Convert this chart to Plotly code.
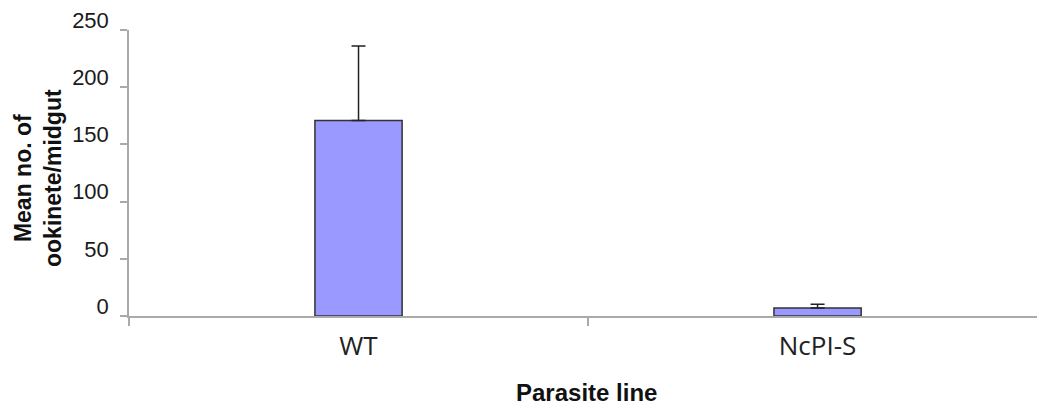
import plotly.graph_objects as go

categories = ["WT", "NcPI-S"]
means = [171, 7]
errors = [65, 3.2]
y_ticks = [0, 50, 100, 150, 200, 250]

fig = go.Figure()
fig.add_trace(go.Bar(
    x=categories, y=means, width=0.19,
    marker=dict(color="#9999ff", line=dict(color="#333333", width=1.5)),
    error_y=dict(type="data", array=errors, symmetric=False, arrayminus=[0, 0],
                 color="#222222", thickness=1.5, width=7),
))

fig.update_layout(
    width=1037, height=405,
    margin=dict(l=129, r=0, t=30, b=89),
    paper_bgcolor="white", plot_bgcolor="white",
    showlegend=False,
    xaxis=dict(
        type="category", range=[-0.5, 1.478],
        showline=True, linecolor="#aaaaaa", linewidth=1.5,
        ticks="outside", tickson="boundaries", ticklen=8, tickcolor="#aaaaaa", tickwidth=1.5,
        tickfont=dict(family="Open Sans", size=26, color="#222222"),
        ticklabelstandoff=6,
        showgrid=False, zeroline=False,
    ),
    yaxis=dict(
        range=[0, 250], tickvals=y_ticks,
        showline=True, linecolor="#aaaaaa", linewidth=1.5,
        ticks="outside", ticklen=7, tickcolor="#aaaaaa", tickwidth=1.5,
        tickfont=dict(family="Liberation Sans, Arial", size=22, color="#1a1a1a"),
        ticklabelshift=-10, ticklabelstandoff=7,
        showgrid=False, zeroline=False,
    ),
    annotations=[
        dict(text="<b>Mean no. of<br>ookinete/midgut</b>", textangle=-90,
             xref="paper", yref="paper", x=(38 - 129) / 908, y=0.4825,
             xanchor="center", yanchor="middle", showarrow=False,
             font=dict(family="Liberation Sans, Arial", size=23, color="#111111")),
        dict(text="<b>Parasite line</b>",
             xref="paper", yref="paper", x=(586.5 - 129) / 908, y=(316 - 392) / 286,
             xanchor="center", yanchor="middle", showarrow=False,
             font=dict(family="Liberation Sans, Arial", size=24, color="#111111")),
    ],
)

fig.write_html("out.html")
